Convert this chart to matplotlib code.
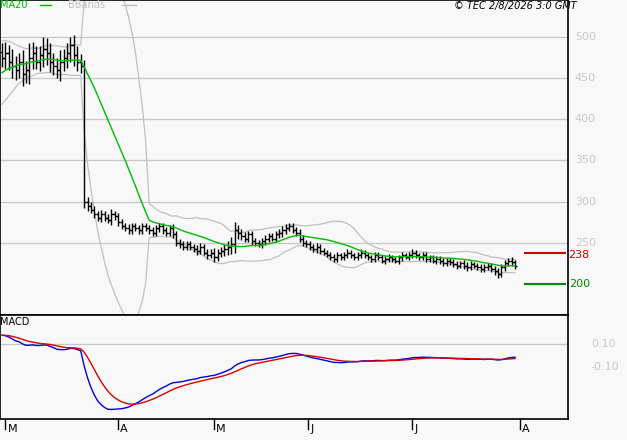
import matplotlib
matplotlib.use("Agg")
import matplotlib.pyplot as plt
import numpy as np
import pandas as pd

pre_close = [380,385,392,398,395,402,408,405,412,418,415,422,428,432,430,438,442,448,452,458,
             455,462,468,465,472,470,476,480,478,482]
close = [475,480,470,465,460,470,455,460,475,480,470,478,485,480,470,465,460,470,475,480,490,478,470,465,
         300,
         295,290,285,280,285,280,278,285,282,275,
         270,268,265,270,268,265,270,268,265,262,268,270,265,262,268,260,
         250,248,245,248,245,242,240,245,238,235,238,232,
         238,240,242,245,248,
         265,
         262,258,255,260,252,250,248,252,255,258,255,260,262,265,268,270,265,262,
         255,250,248,245,242,245,240,
         238,235,232,230,235,232,235,238,235,232,235,238,235,232,230,235,232,228,230,232,230,228,
         232,235,233,235,238,235,232,235,230,232,228,230,228,
         225,228,226,224,222,225,222,220,224,222,220,218,220,222,218,215,212,220,
         225,228,226,222]
wick = [22,28,20,30,25,20,28,22,35,28,18,22,30,28,25,22,20,28,22,25,20,26,22,18,
        15,
        12,8,10,8,10,8,9,12,8,9,
        8,7,9,8,7,8,9,7,8,7,8,9,8,7,8,9,
        9,8,7,9,8,7,10,8,7,9,8,10,
        9,10,12,14,18,
        20,
        14,10,9,8,9,8,7,8,9,8,7,8,9,10,9,8,7,8,
        8,9,7,8,7,8,7,
        7,6,7,8,7,6,7,8,7,6,7,8,7,6,7,8,7,6,7,8,7,6,
        7,8,6,7,8,7,6,7,8,7,6,7,8,
        7,6,7,8,7,6,7,8,7,6,7,8,7,6,7,8,9,7,
        8,7,8,7]
month_labels = ["M", "A", "M", "J", "J", "A"]
month_pos = [1, 34, 62, 89.5, 120, 151.5]
price_ticks = [500, 450, 400, 350, 300, 250]
support, resistance = 200, 238

npre = len(pre_close)
full = pd.Series(pre_close + close, dtype=float)
n = len(close)
idx = np.arange(n)
c = pd.Series(close, dtype=float)
prev = full.shift(1).iloc[npre:].reset_index(drop=True)
w = pd.Series(wick, dtype=float)
high = np.maximum(c, prev) + w / 2
low = np.minimum(c, prev) - w / 2
ma_f = full.rolling(20).mean()
sd_f = full.rolling(20).std()
ema12 = full.ewm(span=12, adjust=False).mean()
ema26 = full.ewm(span=26, adjust=False).mean()
macd_f = ema12 - ema26
sig_f = macd_f.ewm(span=9, adjust=False).mean()
sl = slice(npre, None)
ma = ma_f.iloc[sl].values
ub = (ma_f + 2 * sd_f).iloc[sl].values
lb = (ma_f - 2 * sd_f).iloc[sl].values
macd = macd_f.iloc[sl].values
sig = sig_f.iloc[sl].values
scale = 0.47 / abs(macd.min())
macd_s, sig_s = macd * scale, sig * scale

bg = "#f8f8f8"
fig = plt.figure(figsize=(6.27, 4.4), dpi=100, facecolor=bg)
ax = fig.add_axes([0, 0.284, 0.906, 0.716], facecolor=bg)
ax2 = fig.add_axes([0, 0.048, 0.906, 0.236], facecolor=bg)
xl = (-0.6, 165.5)

for y in price_ticks:
    ax.axhline(y, color="#c8c8c8", lw=0.9, zorder=0)
    ax.text(1.012, y, str(y), transform=ax.get_yaxis_transform(), color="#c8c8c8",
            fontsize=8, va="center", ha="left")
ax.plot(idx, ub, color="#c0c0c0", lw=0.9)
ax.plot(idx, lb, color="#c0c0c0", lw=0.9)
ax.vlines(idx, low, high, color="black", lw=1)
ax.hlines(prev, idx - 0.6, idx, color="black", lw=1)
ax.hlines(c, idx, idx + 0.6, color="black", lw=1)
ax.plot(idx, ma, color="#00bb00", lw=1)
ax.hlines(resistance, 152.5, 165, color="#cc0000", lw=1.5)
ax.hlines(support, 152.5, 165, color="#008800", lw=1.5)
ax.text(1.0, resistance - 3, str(resistance), transform=ax.get_yaxis_transform(), color="#cc0000",
        fontsize=8, ha="left", va="center")
ax.text(1.002, support, str(support), transform=ax.get_yaxis_transform(), color="#008800",
        fontsize=8, ha="left", va="center")
ax.set_xlim(*xl)
ax.set_ylim(162, 545)
ax.set_xticks([]); ax.set_yticks([])
ax.text(0.0, 1.0, "MA20", transform=ax.transAxes, color="#00bb00", fontsize=7, va="top")
ax.plot([0.07, 0.09], [0.985, 0.985], transform=ax.transAxes, color="#00bb00", lw=1)
ax.text(0.12, 1.0, "BBands", transform=ax.transAxes, color="#c0c0c0", fontsize=7, va="top")
ax.plot([0.215, 0.24], [0.985, 0.985], transform=ax.transAxes, color="#c0c0c0", lw=1)
fig.text(0.92, 0.998, "© TEC 2/8/2026 3:0 GMT", fontsize=7, style="italic", ha="right", va="top")
for s in ax.spines.values():
    s.set_linewidth(1.2)

ax2.axhline(0.10, color="#c8c8c8", lw=0.9, zorder=0)
ax2.plot(idx, macd_s, color="#0000dd", lw=1)
ax2.plot(idx, sig_s, color="#dd0000", lw=1)
ax2.set_xlim(*xl)
ax2.set_ylim(-0.552, 0.352)
ax2.set_yticks([]); ax2.set_xticks([])
for y, t in [(0.10, "0.10"), (-0.10, "-0.10")]:
    ax2.text(1.04, y, t, transform=ax2.get_yaxis_transform(), color="#c8c8c8", fontsize=8, va="center")
ax2.text(0.0, 0.985, "MACD", transform=ax2.transAxes, fontsize=7, va="top")
for p, m in zip(month_pos, month_labels):
    ax2.plot([p, p], [0, -0.1], transform=ax2.get_xaxis_transform(), color="black", lw=1, clip_on=False)
    ax2.text(p + 0.6, -0.05, m, transform=ax2.get_xaxis_transform(), fontsize=8, va="top", ha="left")
for s in ax2.spines.values():
    s.set_linewidth(1.2)

fig.savefig("out.png", dpi=100, facecolor=bg)
